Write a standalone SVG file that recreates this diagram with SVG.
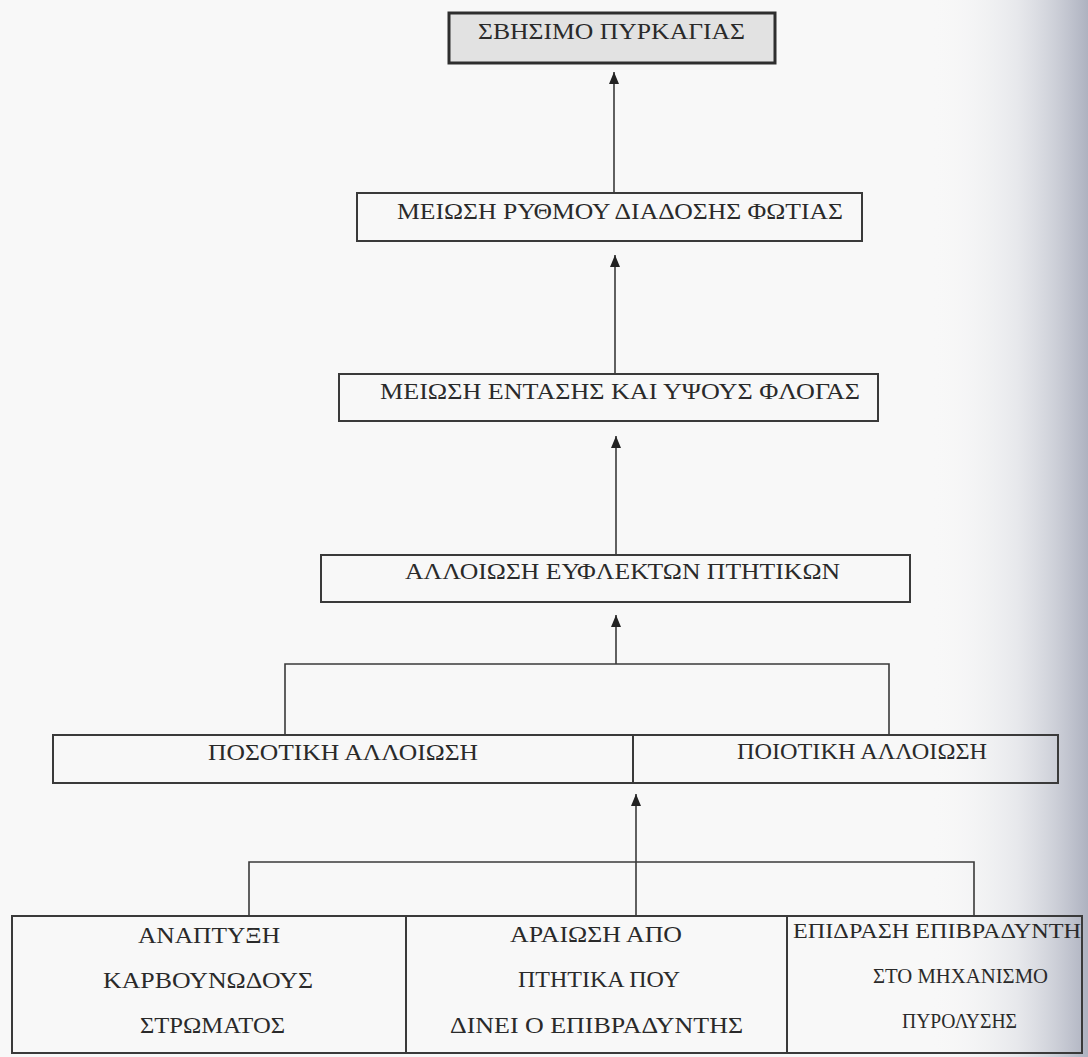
<svg xmlns="http://www.w3.org/2000/svg" width="1088" height="1057" viewBox="0 0 1088 1057">
<defs>
<linearGradient id="shade" x1="0" y1="0" x2="1" y2="0">
<stop offset="0" stop-color="#f8f8f8" stop-opacity="0"/>
<stop offset="0.55" stop-color="#dcdee4" stop-opacity="0.6"/>
<stop offset="1" stop-color="#aeb2c0" stop-opacity="1"/>
</linearGradient>
<marker id="arr" markerUnits="userSpaceOnUse" markerWidth="12" markerHeight="12" refX="12" refY="5" orient="auto">
<path d="M0,0 L12,5 L0,10 z" fill="#222"/>
</marker>
</defs>
<style>
.box{fill:none;stroke:#3a3a3a;stroke-width:2}
.top{fill:#e2e2e2;stroke:#2e2e2e;stroke-width:3}
.t{font-family:"Liberation Serif","Times New Roman",serif;fill:#2a2a2a;font-size:23px}
.s{font-size:20px}
.c{fill:none;stroke:#3a3a3a;stroke-width:1.6}
.a{fill:none;stroke:#3a3a3a;stroke-width:1.6;marker-end:url(#arr)}
</style>
<rect x="0" y="0" width="1088" height="1057" fill="#f8f8f8"/>
<rect x="930" y="0" width="158" height="1057" fill="url(#shade)"/>

<g id="n-sbisimo">
<rect class="top" x="449" y="13" width="326" height="50"/>
<text class="t" x="478" y="39" style="font-size:24px" textLength="267" lengthAdjust="spacingAndGlyphs">ΣΒΗΣΙΜΟ ΠΥΡΚΑΓΙΑΣ</text>
</g>
<g id="n-rythmos">
<rect class="box" x="357" y="193" width="505" height="48"/>
<text class="t" x="397" y="219" textLength="446" lengthAdjust="spacingAndGlyphs">ΜΕΙΩΣΗ ΡΥΘΜΟΥ ΔΙΑΔΟΣΗΣ ΦΩΤΙΑΣ</text>
</g>
<g id="n-entasi">
<rect class="box" x="339" y="374" width="539" height="47"/>
<text class="t" x="380" y="399" textLength="480" lengthAdjust="spacingAndGlyphs">ΜΕΙΩΣΗ ΕΝΤΑΣΗΣ ΚΑΙ ΥΨΟΥΣ ΦΛΟΓΑΣ</text>
</g>
<g id="n-alloiosi-ptitikon">
<rect class="box" x="321" y="555" width="589" height="47"/>
<text class="t" x="405" y="579" textLength="435" lengthAdjust="spacingAndGlyphs">ΑΛΛΟΙΩΣΗ ΕΥΦΛΕΚΤΩΝ ΠΤΗΤΙΚΩΝ</text>
</g>
<g id="n-posotiki">
<rect class="box" x="53" y="735" width="580" height="48"/>
<text class="t" x="208" y="760" textLength="270" lengthAdjust="spacingAndGlyphs">ΠΟΣΟΤΙΚΗ ΑΛΛΟΙΩΣΗ</text>
</g>
<g id="n-poiotiki">
<rect class="box" x="633" y="735" width="425" height="48"/>
<text class="t" x="737" y="759" textLength="250" lengthAdjust="spacingAndGlyphs">ΠΟΙΟΤΙΚΗ ΑΛΛΟΙΩΣΗ</text>
</g>
<g id="n-anaptyxi">
<rect class="box" x="12" y="916" width="394" height="137"/>
<text class="t" x="138" y="943" textLength="142" lengthAdjust="spacingAndGlyphs">ΑΝΑΠΤΥΞΗ</text>
<text class="t" x="103" y="988" textLength="210" lengthAdjust="spacingAndGlyphs">ΚΑΡΒΟΥΝΩΔΟΥΣ</text>
<text class="t" x="140" y="1033" textLength="145" lengthAdjust="spacingAndGlyphs">ΣΤΡΩΜΑΤΟΣ</text>
</g>
<g id="n-araiosi">
<rect class="box" x="406" y="916" width="381" height="137"/>
<text class="t" x="510" y="942" textLength="172" lengthAdjust="spacingAndGlyphs">ΑΡΑΙΩΣΗ ΑΠΟ</text>
<text class="t" x="518" y="987" textLength="162" lengthAdjust="spacingAndGlyphs">ΠΤΗΤΙΚΑ ΠΟΥ</text>
<text class="t" x="450" y="1033" textLength="293" lengthAdjust="spacingAndGlyphs">ΔΙΝΕΙ Ο ΕΠΙΒΡΑΔΥΝΤΗΣ</text>
</g>
<g id="n-epidrasi">
<rect class="box" x="787" y="916" width="295" height="137"/>
<text class="t s" x="793" y="938" textLength="288" lengthAdjust="spacingAndGlyphs">ΕΠΙΔΡΑΣΗ ΕΠΙΒΡΑΔΥΝΤΗ</text>
<text class="t s" x="873" y="983" textLength="175" lengthAdjust="spacingAndGlyphs">ΣΤΟ ΜΗΧΑΝΙΣΜΟ</text>
<text class="t s" x="902" y="1028" textLength="115" lengthAdjust="spacingAndGlyphs">ΠΥΡΟΛΥΣΗΣ</text>
</g>

<g id="connectors">
<line class="a" x1="614" y1="193" x2="614" y2="72"/>
<line class="a" x1="615" y1="374" x2="615" y2="255"/>
<line class="a" x1="616" y1="555" x2="616" y2="436"/>
<line class="a" x1="616" y1="664" x2="616" y2="615"/>
<polyline class="c" points="285,735 285,664 889,664 889,735"/>
<line class="a" x1="636" y1="916" x2="636" y2="794"/>
<polyline class="c" points="249,916 249,862 974,862 974,916"/>
</g>
</svg>
